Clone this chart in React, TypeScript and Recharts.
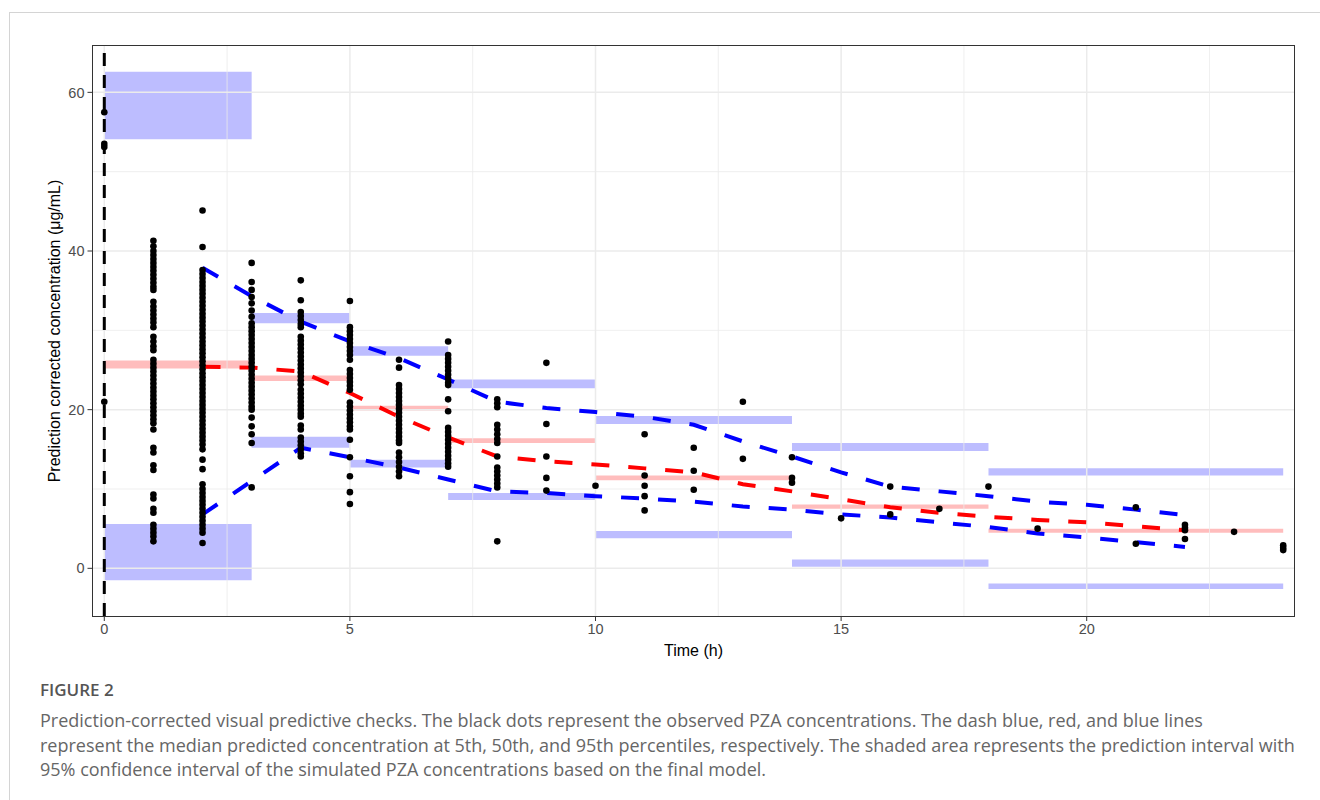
import React from 'react';
import { ComposedChart, XAxis, YAxis, Line, Scatter, ReferenceArea, ReferenceLine } from 'recharts';

// Axes
const xTicks = [0, 5, 10, 15, 20];
const yTicks = [0, 20, 40, 60];
const xMinor = [2.5, 7.5, 12.5, 17.5, 22.5];
const yMinor = [10, 30, 50];
const xDomain: [number, number] = [-0.24, 24.23];
const yDomain: [number, number] = [-6.01, 65.97];

// Bins of the prediction intervals
const binStart = [0, 3, 5, 7, 10, 14, 18];
const binEnd = [3, 5, 7, 10, 14, 18, 24];
const upperHi = [62.6, 32.2, 28.0, 23.8, 19.2, 15.8, 12.6];
const upperLo = [54.1, 30.9, 26.8, 22.7, 18.2, 14.8, 11.7];
const medHi = [26.2, 24.3, 20.5, 16.4, 11.7, 8.05, 5.0];
const medLo = [25.2, 23.6, 19.9, 15.8, 11.1, 7.5, 4.5];
const lowHi = [5.6, 16.6, 13.7, 9.5, 4.7, 1.1, -1.9];
const lowLo = [-1.5, 15.2, 12.7, 8.6, 3.8, 0.2, -2.6];

// Percentile lines
const lineTimes = [2, 3, 4, 5, 6, 7, 8, 9, 10, 11, 12, 13, 14, 15, 16, 17, 18, 19, 20, 21, 22];
const p95 = [37.9, 34.3, 31.1, 28.6, 26.5, 23.8, 21.0, 20.2, 19.7, 19.1, 18.1, 16.0, 14.1, 12.1, 10.3, 9.7, 9.1, 8.4, 8.0, 7.4, 6.7];
const p50 = [25.4, 25.3, 24.8, 22.1, 19.1, 16.5, 14.1, 13.5, 13.1, 12.6, 12.1, 10.6, 9.7, 8.7, 7.7, 7.0, 6.5, 6.1, 5.8, 5.3, 4.8];
const p05 = [6.8, 11.0, 15.2, 14.0, 12.7, 11.2, 9.7, 9.5, 9.1, 8.8, 8.4, 7.8, 7.4, 6.8, 6.4, 5.8, 5.2, 4.4, 3.9, 3.3, 2.7];

// Observed concentrations by time
const obs0 = [57.5, 53.5, 53.1, 21.0];
const obs1 = [41.3, 40.6, 40.0, 39.5, 39.0, 38.5, 38.0, 37.5, 37.0, 36.5, 36.0, 35.5, 35.1,
  33.6, 33.0, 32.5, 32.0, 31.5, 31.0, 30.4, 29.2, 28.6, 28.0, 27.5,
  26.3, 25.8, 25.3, 24.8, 24.3, 23.8, 23.3, 22.8, 22.3, 21.8, 21.3, 20.8, 20.3, 19.8, 19.3, 18.8, 18.3, 17.5,
  15.2, 14.6, 13.0, 12.4, 9.3, 8.8, 7.5, 7.0, 5.5, 5.0, 4.5, 4.0, 3.4];
const obs2 = [45.1, 40.5, 37.6, 37.1, 36.6, 36.1, 35.6, 35.1, 34.6, 34.1, 33.6, 33.1, 32.6, 32.1, 31.6, 31.1,
  30.6, 30.1, 29.6, 29.1, 28.6, 28.1, 27.6, 27.1, 26.6, 26.1, 25.6, 25.1, 24.6, 24.1, 23.6, 23.1, 22.6, 22.1,
  21.6, 21.1, 20.6, 20.1, 19.6, 19.1, 18.6, 18.1, 17.6, 17.1, 16.6, 16.1, 15.6, 15.0, 13.7, 12.5,
  10.6, 10.0, 9.5, 9.0, 8.5, 8.0, 7.5, 7.0, 6.5, 6.0, 5.5, 5.0, 4.5, 3.2];
const obs3 = [38.5, 36.1, 35.1, 34.2, 33.4, 32.5, 31.7, 30.9, 30.4, 29.9, 29.4, 28.9, 28.4, 27.9, 27.4, 26.9,
  26.4, 25.9, 25.4, 24.9, 24.4, 23.9, 23.4, 22.9, 22.4, 21.9, 21.4, 20.9, 20.4, 20.0, 19.0, 17.9, 16.9, 15.8, 10.2];
const obs4 = [36.3, 33.8, 32.3, 31.8, 31.3, 30.8, 30.4, 29.2, 28.7, 28.2, 27.7, 27.2, 26.7, 26.2, 25.7, 25.2,
  24.7, 24.2, 23.7, 23.2, 22.5, 22.0, 21.5, 21.0, 20.5, 20.0, 19.5, 19.1, 18.0, 17.5, 16.5, 16.0, 15.5, 15.0, 14.5, 14.1];
const obs5 = [33.7, 30.4, 29.9, 29.4, 28.9, 28.4, 27.9, 27.4, 26.9, 26.3, 25.0, 24.5, 24.0, 23.5, 23.0, 22.5,
  20.9, 20.4, 19.9, 19.4, 18.9, 18.4, 17.9, 17.5, 16.2, 14.0, 11.6, 9.6, 8.1];
const obs6 = [26.3, 25.3, 23.1, 22.6, 22.1, 21.6, 21.1, 20.6, 20.1, 19.6, 19.1, 18.6, 18.1, 17.6, 17.1, 16.6,
  16.1, 15.8, 14.6, 14.0, 13.4, 12.8, 12.2, 11.6];
const obs7 = [28.6, 26.9, 26.4, 25.9, 25.4, 24.9, 24.4, 23.9, 23.4, 23.1, 21.3, 19.8, 17.7, 17.2, 16.7, 16.2,
  15.7, 15.2, 14.7, 14.2, 13.7, 13.2, 12.8];
const obs8 = [21.3, 20.8, 20.3, 18.1, 17.5, 16.9, 16.3, 15.8, 14.1, 12.7, 12.2, 11.7, 11.2, 10.7, 10.2, 3.4];
const obs9 = [25.9, 18.2, 14.1, 11.4, 9.8];
const obs10 = [10.4];
const obs11 = [16.9, 11.7, 10.4, 9.1, 7.3];
const obs12 = [15.2, 12.3, 9.9];
const obs13 = [21.0, 13.8];
const obs14 = [14.0, 11.4, 10.8];
const obs15 = [6.3];
const obs16 = [10.3, 6.8];
const obs17 = [7.5];
const obs18 = [10.3];
const obs19 = [5.0];
const obs21 = [7.7, 3.1];
const obs22 = [5.5, 5.1, 4.8, 3.7];
const obs23 = [4.6];
const obs24 = [2.9, 2.6, 2.3];

const obsGroups: [number, number[]][] = [
  [0, obs0], [1, obs1], [2, obs2], [3, obs3], [4, obs4], [5, obs5], [6, obs6], [7, obs7], [8, obs8],
  [9, obs9], [10, obs10], [11, obs11], [12, obs12], [13, obs13], [14, obs14], [15, obs15], [16, obs16],
  [17, obs17], [18, obs18], [19, obs19], [21, obs21], [22, obs22], [23, obs23], [24, obs24],
];

const obsPoints = obsGroups.flatMap(([t, vals]) => vals.map((v) => ({ t, v })));
const mk = (vals: number[]) => lineTimes.map((t, i) => ({ t, v: vals[i] }));
const p95Data = mk(p95);
const p50Data = mk(p50);
const p05Data = mk(p05);

const BLUE_FILL = '#0000ff';
const RED_FILL = '#ff0000';
const GRID = '#ebebeb';

const Dot = (props: any) => {
  const { cx, cy } = props;
  if (cx == null || cy == null) return null;
  return <circle cx={cx} cy={cy} r={3.3} fill="#000" />;
};

export default function App() {
  const tickStyle = { fill: '#4d4d4d', fontSize: 14.5, fontFamily: 'Liberation Sans, Arial, sans-serif' };
  return (
    <div style={{ position: 'absolute', left: 0, top: 0, width: 1320, height: 800, background: '#fff', overflow: 'hidden' }}>
      <div style={{ position: 'absolute', left: 9, top: 12, width: 1320, height: 800, borderLeft: '1px solid #d4d4d4', borderTop: '1px solid #d4d4d4' }} />
      <div style={{ position: 'absolute', left: 0, top: 0 }}>
        <ComposedChart width={1320} height={660} margin={{ top: 45, right: 25.5, left: 27.5, bottom: 14 }}>
          <XAxis
            dataKey="t"
            type="number"
            domain={xDomain}
            ticks={xTicks}
            allowDataOverflow
            axisLine={false}
            tickLine={{ stroke: '#333', strokeWidth: 1 }}
            tickSize={5}
            tickMargin={3}
            height={30}
            tick={tickStyle}
            interval={0}
          />
          <YAxis
            dataKey="v"
            type="number"
            domain={yDomain}
            ticks={yTicks}
            allowDataOverflow
            axisLine={false}
            tickLine={{ stroke: '#333', strokeWidth: 1 }}
            tickSize={5}
            tickMargin={3}
            width={65}
            tick={tickStyle}
            interval={0}
          />
          {xMinor.map((x) => (
            <ReferenceLine key={'xm' + x} x={x} stroke={GRID} strokeWidth={0.8} />
          ))}
          {yMinor.map((y) => (
            <ReferenceLine key={'ym' + y} y={y} stroke={GRID} strokeWidth={0.8} />
          ))}
          {xTicks.map((x) => (
            <ReferenceLine key={'xM' + x} x={x} stroke={GRID} strokeWidth={1.5} />
          ))}
          {yTicks.map((y) => (
            <ReferenceLine key={'yM' + y} y={y} stroke={GRID} strokeWidth={1.5} />
          ))}
          {binStart.map((b, i) => (
            <ReferenceArea key={'u' + i} x1={b} x2={binEnd[i]} y1={upperLo[i]} y2={upperHi[i]} fill={BLUE_FILL} fillOpacity={0.26} stroke="none" />
          ))}
          {binStart.map((b, i) => (
            <ReferenceArea key={'l' + i} x1={b} x2={binEnd[i]} y1={lowLo[i]} y2={lowHi[i]} fill={BLUE_FILL} fillOpacity={0.26} stroke="none" />
          ))}
          {binStart.map((b, i) => (
            <ReferenceArea key={'m' + i} x1={b} x2={binEnd[i]} y1={medLo[i]} y2={medHi[i]} fill={RED_FILL} fillOpacity={0.26} stroke="none" />
          ))}
          <ReferenceLine x={0} stroke="#000" strokeWidth={3} strokeDasharray="13 9" />
          <Line data={p95Data} dataKey="v" stroke="#0000ff" strokeWidth={4} strokeDasharray="18 19" dot={false} isAnimationActive={false} />
          <Line data={p50Data} dataKey="v" stroke="#ff0000" strokeWidth={4} strokeDasharray="18 19" dot={false} isAnimationActive={false} />
          <Line data={p05Data} dataKey="v" stroke="#0000ff" strokeWidth={4} strokeDasharray="18 19" dot={false} isAnimationActive={false} />
          <Scatter data={obsPoints} dataKey="v" shape={Dot} isAnimationActive={false} />
        </ComposedChart>
      </div>
      <div style={{ position: 'absolute', left: 92, top: 45, width: 1203, height: 572, border: '1px solid #333', boxSizing: 'border-box', pointerEvents: 'none' }} />
      <div style={{ position: 'absolute', left: 0, top: 640, width: 1387, textAlign: 'center', fontFamily: 'Liberation Sans, Arial, sans-serif', fontSize: 16, color: '#000', lineHeight: '22px' }}>
        Time (h)
      </div>
      <div style={{ position: 'absolute', left: 55, top: 331, width: 0, height: 0 }}>
        <div style={{ position: 'absolute', left: -250, top: -11, width: 500, textAlign: 'center', transform: 'rotate(-90deg)', fontFamily: 'Liberation Sans, Arial, sans-serif', fontSize: 16, color: '#000', lineHeight: '22px', whiteSpace: 'nowrap' }}>
          Prediction corrected concentration (μg/mL)
        </div>
      </div>
      <div style={{ position: 'absolute', left: 40, top: 679, fontFamily: '"Open Sans", sans-serif', fontSize: 17, fontWeight: 600, color: '#555', lineHeight: '22px', whiteSpace: 'nowrap' }}>
        FIGURE 2
      </div>
      <div style={{ position: 'absolute', left: 40, top: 708, fontFamily: '"Open Sans", sans-serif', fontSize: 18, color: '#666', lineHeight: '24.5px', whiteSpace: 'nowrap' }}>
        Prediction-corrected visual predictive checks. The black dots represent the observed PZA concentrations. The dash blue, red, and blue lines
        <br />
        represent the median predicted concentration at 5th, 50th, and 95th percentiles, respectively. The shaded area represents the prediction interval with
        <br />
        95% confidence interval of the simulated PZA concentrations based on the final model.
      </div>
    </div>
  );
}
